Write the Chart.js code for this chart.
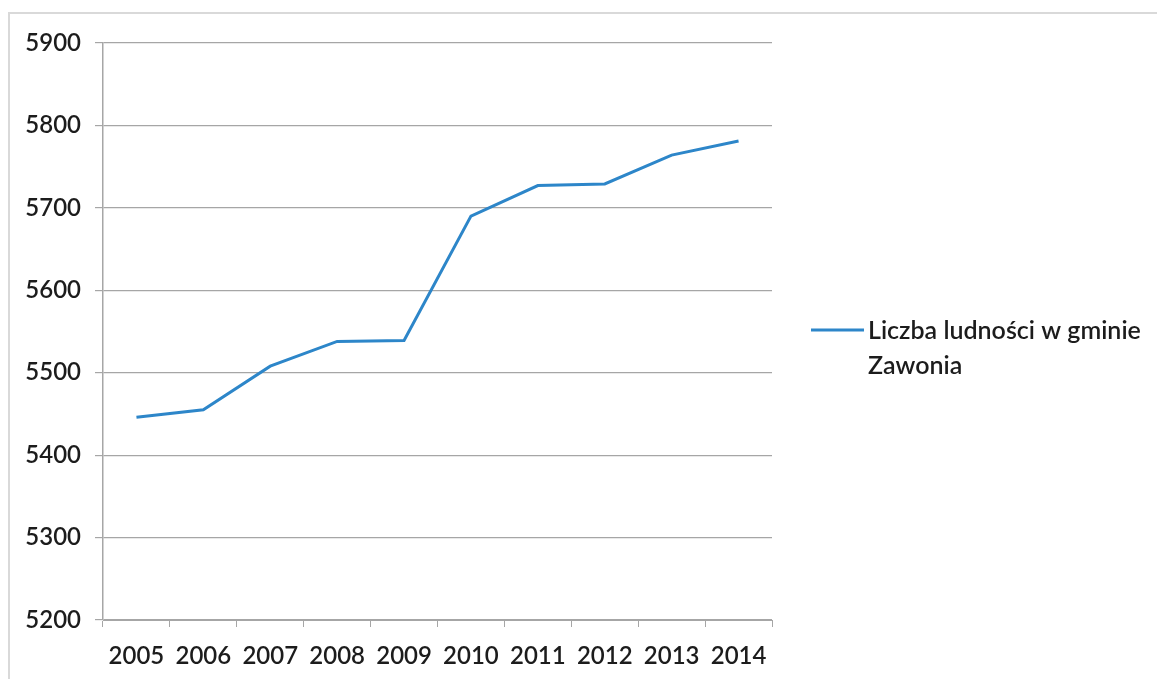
<!DOCTYPE html>
<html>
<head>
<meta charset="utf-8">
<script src="https://cdn.jsdelivr.net/npm/chart.js@4"></script>
<style>
  html, body { margin: 0; padding: 0; background: #fff; }
  #wrap { position: relative; width: 1157px; height: 679px; }
</style>
</head>
<body>
<div id="wrap"><canvas id="population-chart"></canvas></div>
<script>
const years = ["2005", "2006", "2007", "2008", "2009", "2010", "2011", "2012", "2013", "2014"];
const population = [5446, 5455, 5508, 5538, 5539, 5690, 5727, 5729, 5764, 5781];
const legendLines = ["Liczba ludności w gminie", "Zawonia"];
const yMin = 5200;
const yMax = 5900;
const yStep = 100;

const lineColor = "#2d86c9";
const gridColor = "#a6a6a6";
const textColor = "#1c1c1c";
const fontFamily = "Lato, 'Open Sans', sans-serif";

// frame round the whole chart + legend on the right
const framePlugin = {
  id: "frame",
  beforeDraw(chart) {
    const ctx = chart.ctx;
    ctx.save();
    ctx.strokeStyle = "#d9d9d9";
    ctx.lineWidth = 2;
    ctx.strokeRect(9, 13, 1160, 700);
    ctx.restore();
  },
  afterDraw(chart) {
    const ctx = chart.ctx;
    const area = chart.chartArea;
    const x0 = area.right + 39;
    const y0 = 330;
    ctx.save();
    ctx.strokeStyle = lineColor;
    ctx.lineWidth = 3;
    ctx.beginPath();
    ctx.moveTo(x0, y0);
    ctx.lineTo(x0 + 53, y0);
    ctx.stroke();
    ctx.fillStyle = textColor;
    ctx.font = "600 25px " + fontFamily;
    ctx.textBaseline = "middle";
    legendLines.forEach((line, i) => {
      ctx.fillText(line, x0 + 57, y0 + 1 + i * 35);
    });
    ctx.restore();
  },
};

new Chart(document.getElementById("population-chart"), {
  type: "line",
  data: {
    labels: years,
    datasets: [
      {
        label: legendLines.join(" "),
        data: population,
        borderColor: lineColor,
        borderWidth: 3,
        pointRadius: 0,
        tension: 0,
        fill: false,
      },
    ],
  },
  options: {
    responsive: true,
    maintainAspectRatio: false,
    animation: false,
    layout: { padding: { left: 0, top: 43, right: 385, bottom: 0 } },
    plugins: { legend: { display: false }, tooltip: { enabled: false } },
    scales: {
      x: {
        offset: true,
        grid: {
          offset: true,
          drawOnChartArea: false,
          drawTicks: true,
          tickLength: 7,
          color: gridColor,
        },
        border: { color: gridColor, width: 1 },
        ticks: {
          color: textColor,
          padding: 15,
          maxRotation: 0,
          font: { family: fontFamily, size: 24, weight: "600" },
        },
        afterFit(scale) {
          scale.height = 59;
        },
      },
      y: {
        min: yMin,
        max: yMax,
        ticks: {
          stepSize: yStep,
          color: textColor,
          padding: 14,
          font: { family: fontFamily, size: 24, weight: "600" },
          callback: (v) => String(v),
        },
        grid: { color: gridColor, tickLength: 8, lineWidth: 1.2 },
        border: { color: gridColor, width: 1.5 },
        afterFit(scale) {
          scale.width = 103;
        },
      },
    },
  },
  plugins: [framePlugin],
});
</script>
</body>
</html>
